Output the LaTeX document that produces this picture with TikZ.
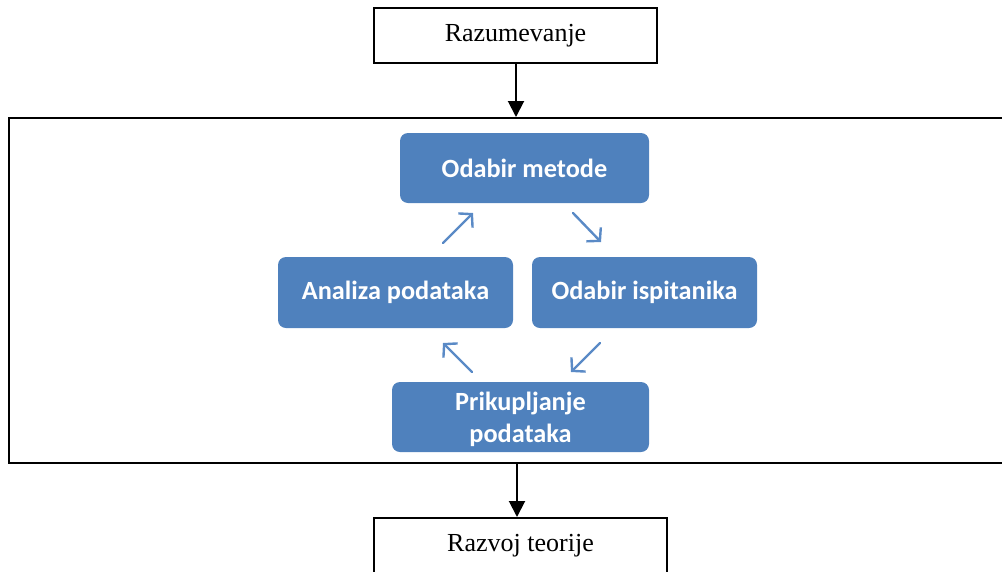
\documentclass[tikz,border=0pt]{standalone}
\usepackage{fontspec}
\setmainfont{Liberation Serif}
\newfontfamily\calfont{Carlito}
\usetikzlibrary{arrows.meta}
\definecolor{boxblue}{HTML}{4F81BD}
\definecolor{arrblue}{HTML}{5A8AC6}
\tikzset{
  whitebox/.style={draw=black, line width=2pt, fill=white, inner sep=0pt,
    font=\fontsize{26}{30}\selectfont},
  bluebox/.style={fill=boxblue, rounded corners=8pt, inner sep=0pt,
    text=white, font=\calfont\bfseries\fontsize{26.3}{32}\selectfont, align=center},
  mainarrow/.style={line width=2pt, -{Triangle[length=16pt,width=16pt]}},
  cyclearrow/.style={draw=arrblue, line width=2.4pt, line cap=round,
    -{Straight Barb[length=9pt,width=20pt]}}
}
\begin{document}
\begin{tikzpicture}[x=1pt,y=-1pt]
\useasboundingbox (0,0) rectangle (1002,571);
\begin{scope}
\clip (0,0) rectangle (1002,571);
% frame
\node[draw=black, line width=2pt, minimum width=1010pt, minimum height=345pt, inner sep=0pt, anchor=north west] (frame) at (8,117) {};
% top and bottom boxes
\node[whitebox, minimum width=283pt, minimum height=55pt] (top) at (515.5,35.5) {Razumevanje};
\node[whitebox, minimum width=293pt, minimum height=56pt] (bottom) at (520.5,546) {Razvoj teorije};
% blue boxes
\node[bluebox, minimum width=249pt, minimum height=70pt] (metode) at (524.5,168) {Odabir metode};
\node[bluebox, minimum width=235pt, minimum height=71pt] (analiza) at (395.5,292.5) {Analiza podataka};
\node[bluebox, minimum width=225pt, minimum height=71pt] (ispit) at (644.5,292.5) {Odabir ispitanika};
\node[bluebox, minimum width=257pt, minimum height=70pt, text depth=0pt] (prik) at (520.5,417) {Prikupljanje\\podataka};
% main arrows
\draw[mainarrow] (top.south -| 516,0) -- (frame.north -| 516,0);
\draw[mainarrow] (frame.south -| 517,0) -- (bottom.north -| 517,0);
% cycle arrows
\coordinate (a1s) at (443,243); \coordinate (a1e) at (473,213);
\coordinate (a2s) at (573,213); \coordinate (a2e) at (601,242);
\coordinate (a3s) at (600,343); \coordinate (a3e) at (571,372);
\coordinate (a4s) at (472,372); \coordinate (a4e) at (443,343);
\draw[cyclearrow] (a1s) -- (a1e);
\draw[cyclearrow] (a2s) -- (a2e);
\draw[cyclearrow] (a3s) -- (a3e);
\draw[cyclearrow] (a4s) -- (a4e);
\end{scope}
\end{tikzpicture}
\end{document}
